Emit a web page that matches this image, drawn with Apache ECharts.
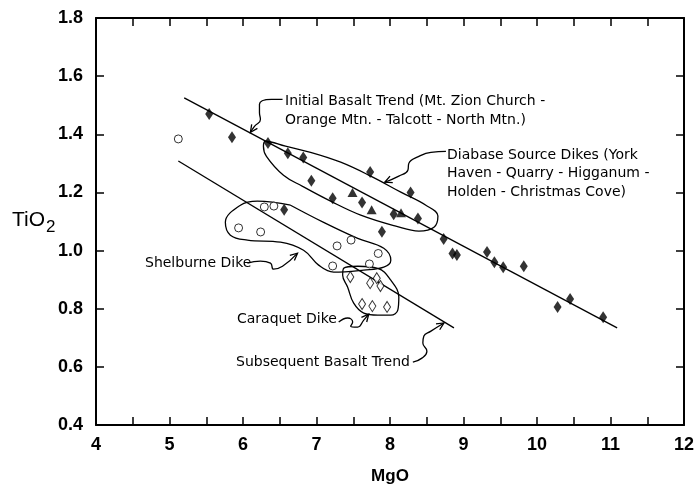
<!DOCTYPE html>
<html>
<head>
<meta charset="utf-8">
<script src="https://cdn.jsdelivr.net/npm/echarts@6/dist/echarts.min.js"></script>
<style>
html, body { margin: 0; padding: 0; background: #fff; }
#chart { width: 698px; height: 496px; }
</style>
</head>
<body>
<div id="chart"></div>
<script>
// MgO vs TiO2
var sourceDikes = [[5.54,1.47],[5.85,1.39],[6.34,1.37],[6.61,1.335],[6.82,1.32],[6.93,1.24],[6.56,1.14],
  [7.22,1.18],[7.62,1.165],[7.73,1.27],[8.05,1.125],[8.38,1.11],[8.28,1.20],[7.89,1.065],[8.73,1.04],
  [8.85,0.99],[8.91,0.985],[9.32,0.995],[9.42,0.96],[9.54,0.943],[9.82,0.946],[10.28,0.806],[10.45,0.833],[10.90,0.771]];
var sourceTriangles = [[7.49,1.20],[7.75,1.14],[8.15,1.13]];
var shelburne = [[5.12,1.384],[6.29,1.15],[6.42,1.153],[5.94,1.078],[6.24,1.064],[7.28,1.016],[7.47,1.036],
  [7.84,0.99],[7.22,0.947],[7.72,0.954]];
var caraquet = [[7.46,0.909],[7.73,0.888],[7.82,0.905],[7.87,0.878],[7.62,0.816],[7.76,0.809],[7.96,0.806]];

var initialTrend = [[5.20,1.525],[11.09,0.734]];
var subsequentTrend = [[5.12,1.308],[8.87,0.734]];

// hand drawn outlines round the groups (start mid-edge so the smoothing has no kink at an end)
var diabaseLoop = [[6.919,1.338],[7.329,1.304],[7.738,1.256],[8.147,1.201],[8.488,1.156],
  [8.652,1.119],[8.598,1.080],[8.393,1.067],[8.079,1.084],[7.602,1.122],[7.192,1.170],[6.810,1.221],[6.551,1.259],
  [6.319,1.324],[6.278,1.359],[6.306,1.376],[6.578,1.359],[6.919,1.338]];
var shelburneLoop = [[6.647,1.156],[7.097,1.097],[7.561,1.042],[7.915,1.008],
  [8.011,0.967],[7.915,0.943],[7.643,0.933],[7.233,0.926],[7.029,0.950],[6.824,1.001],[6.510,1.029],[6.060,1.036],
  [5.828,1.053],[5.760,1.097],[5.965,1.156],[6.196,1.170],[6.647,1.156]];
var caraquetLoop = [[7.561,0.946],[7.834,0.939],[8.011,0.898],[8.120,0.840],[8.106,0.795],[8.011,0.778],
  [7.834,0.778],[7.643,0.785],[7.506,0.819],[7.424,0.874],[7.356,0.915],[7.370,0.939],[7.561,0.946]];

// curly leaders from the labels, last point is the arrow tip
var leaderInitial = [[6.538,1.520],[6.387,1.520],[6.224,1.503],[6.224,1.475],[6.237,1.451],[6.156,1.427],[6.101,1.407]];
var leaderDiabase = [[8.761,1.341],[8.557,1.338],[8.393,1.324],[8.256,1.300],[8.243,1.276],[8.120,1.256],[7.929,1.235]];
var leaderShelburne = [[6.060,0.957],[6.237,0.964],[6.374,0.957],[6.415,0.936],[6.538,0.946],[6.742,0.991]];
var leaderCaraquet = [[7.302,0.754],[7.424,0.768],[7.492,0.754],[7.465,0.740],[7.561,0.737],[7.643,0.761],[7.711,0.781]];
var leaderSubsequent = [[8.311,0.616],[8.434,0.630],[8.502,0.654],[8.447,0.682],[8.461,0.706],[8.557,0.723],[8.734,0.751]];
var leaders = [leaderInitial, leaderDiabase, leaderShelburne, leaderCaraquet, leaderSubsequent];

var labelFont = 'Liberation Sans';
var noteFont = '14px "DejaVu Sans"';

var myChart = echarts.init(document.getElementById('chart'));

function lineSeries(data, smooth) {
    return {
        type: 'line',
        data: data,
        smooth: smooth,
        symbol: 'none',
        silent: true,
        lineStyle: { color: '#000', width: 1.3 },
        z: 3
    };
}

var series = [
    lineSeries(initialTrend, false),
    lineSeries(subsequentTrend, false),
    lineSeries(diabaseLoop, 0.4),
    lineSeries(shelburneLoop, 0.4),
    lineSeries(caraquetLoop, 0.4)
];
leaders.forEach(function (l) { series.push(lineSeries(l, 0.5)); });

series.push({
    type: 'scatter', data: sourceDikes, symbol: 'diamond', symbolSize: [8, 12],
    itemStyle: { color: '#000' }, z: 5
});
series.push({
    type: 'scatter', data: sourceTriangles, symbol: 'triangle', symbolSize: [10, 9],
    itemStyle: { color: '#000' }, z: 5
});
series.push({
    type: 'scatter', data: shelburne, symbol: 'circle', symbolSize: 8,
    itemStyle: { color: '#fff', borderColor: '#000', borderWidth: 1 }, z: 5
});
series.push({
    type: 'scatter', data: caraquet, symbol: 'diamond', symbolSize: [7, 11],
    itemStyle: { color: '#fff', borderColor: '#000', borderWidth: 1 }, z: 5
});

function axisCommon(pos, showLabel, isX) {
    return {
        type: 'value',
        position: pos,
        min: isX ? 4 : 0.4,
        max: isX ? 12 : 1.8,
        interval: isX ? 0.5 : 0.2,
        axisLine: { show: true, onZero: false, lineStyle: { color: '#000', width: 2 } },
        axisTick: { show: true, inside: true, length: 8, lineStyle: { color: '#000', width: 1.5 } },
        splitLine: { show: false },
        axisLabel: {
            show: showLabel,
            color: '#000',
            fontFamily: labelFont,
            fontWeight: 'bold',
            fontSize: 18,
            margin: isX ? 11 : 13,
            formatter: function (v) {
                if (isX) return (Math.abs(v - Math.round(v)) < 1e-6) ? String(Math.round(v)) : '';
                return v.toFixed(1);
            }
        }
    };
}

var xBottom = axisCommon('bottom', true, true);
xBottom.name = 'MgO';
xBottom.nameLocation = 'middle';
xBottom.nameGap = 43;
xBottom.nameTextStyle = { color: '#000', fontFamily: labelFont, fontWeight: 'bold', fontSize: 17 };

option = {
    animation: false,
    backgroundColor: '#fff',
    grid: { left: 96, right: 14, top: 18, bottom: 71, containLabel: false },
    xAxis: [xBottom, axisCommon('top', false, true)],
    yAxis: [axisCommon('left', true, false), axisCommon('right', false, false)],
    series: series
};
myChart.setOption(option);

// labels, TiO2 title and arrow heads
var graphics = [
    { type: 'text', x: 12, y: 220, style: {
        text: '{a|TiO}{b|2}', textVerticalAlign: 'middle',
        rich: { a: { font: '21px "Liberation Sans"', fill: '#000' },
                b: { font: '17px "Liberation Sans"', fill: '#000', padding: [14, 0, 0, 1] } } } }
];
var notes = [
    ['Initial Basalt Trend (Mt. Zion Church -', 285, 101],
    ['Orange Mtn. - Talcott - North Mtn.)', 285, 120],
    ['Diabase Source Dikes (York', 447, 155],
    ['Haven - Quarry - Higganum -', 447, 173],
    ['Holden - Christmas Cove)', 447, 192],
    ['Shelburne Dike', 145, 263],
    ['Caraquet Dike', 237, 319],
    ['Subsequent Basalt Trend', 236, 362]
];
notes.forEach(function (n) {
    graphics.push({ type: 'text', x: n[1], y: n[2], style: {
        text: n[0], font: noteFont, fill: '#000', textVerticalAlign: 'middle' } });
});
leaders.forEach(function (l) {
    var tip = myChart.convertToPixel({ gridIndex: 0 }, l[l.length - 1]);
    var prev = myChart.convertToPixel({ gridIndex: 0 }, l[l.length - 2]);
    var a = Math.atan2(tip[1] - prev[1], tip[0] - prev[0]);
    var len = 8, spread = 0.45;
    graphics.push({ type: 'polyline', shape: { points: [
        [tip[0] - len * Math.cos(a - spread), tip[1] - len * Math.sin(a - spread)],
        tip,
        [tip[0] - len * Math.cos(a + spread), tip[1] - len * Math.sin(a + spread)]
    ] }, style: { stroke: '#000', lineWidth: 1.3, fill: null }, z: 10 });
});
myChart.setOption({ graphic: graphics });
</script>
</body>
</html>
